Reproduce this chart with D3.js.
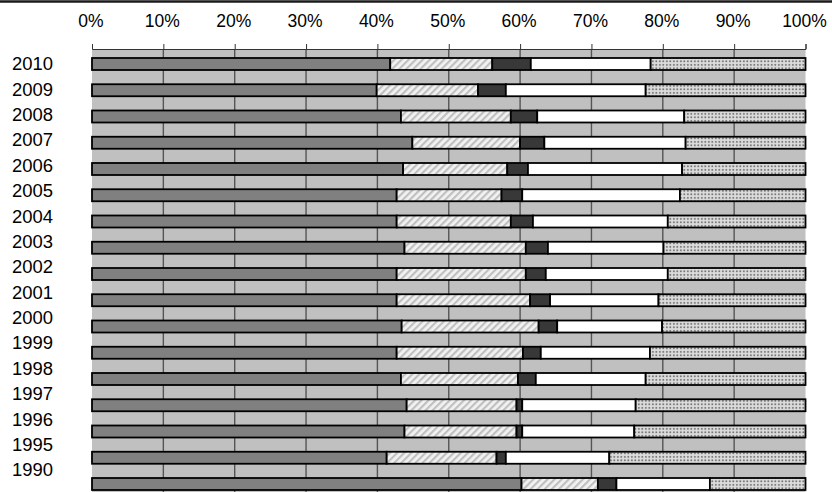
<!DOCTYPE html>
<html><head><meta charset="utf-8">
<script src="https://cdn.jsdelivr.net/npm/d3@7"></script>
<style>html,body{margin:0;padding:0;background:#fff;}svg{display:block;}</style>
</head><body>
<svg id="c" width="832" height="492"></svg>
<script>
const years = ["2010","2009","2008","2007","2006","2005","2004","2003","2002","2001","2000","1999","1998","1997","1996","1995","1990"];
const seriesA = [41.8,39.9,43.3,44.9,43.6,42.7,42.7,43.8,42.7,42.7,43.4,42.7,43.3,44.1,43.8,41.3,60.2];
const seriesB = [14.3,14.2,15.4,15.1,14.6,14.7,16.0,17.0,18.1,18.7,19.2,17.7,16.4,15.4,15.7,15.4,10.7];
const seriesC = [5.4,3.9,3.7,3.4,2.9,2.9,3.1,3.1,2.8,2.8,2.6,2.5,2.5,0.8,0.8,1.3,2.6];
const seriesD = [16.8,19.6,20.6,19.8,21.6,22.1,18.9,16.2,17.1,15.2,14.7,15.3,15.4,15.9,15.7,14.5,13.1];
const seriesE = [21.7,22.4,17.0,16.8,17.3,17.6,19.3,19.9,19.3,20.6,20.1,21.8,22.4,23.8,24.0,27.5,13.4];
const tickLabels = ["0%","10%","20%","30%","40%","50%","60%","70%","80%","90%","100%"];

const keys = ["A","B","C","D","E"];
const rows = years.map((y,i)=>({year:y,A:seriesA[i],B:seriesB[i],C:seriesC[i],D:seriesD[i],E:seriesE[i]}));
const stacked = d3.stack().keys(keys).offset(d3.stackOffsetExpand)(rows);

const svg = d3.select("#c");
const defs = svg.append("defs");
const hatch = defs.append("pattern").attr("id","hatch").attr("patternUnits","userSpaceOnUse")
  .attr("width",5).attr("height",5).attr("patternTransform","rotate(45)");
hatch.append("rect").attr("width",5).attr("height",5).attr("fill","#f2f2f2");
hatch.append("rect").attr("width",2.2).attr("height",5).attr("fill","#c0c0c0");
const dots = defs.append("pattern").attr("id","dots").attr("patternUnits","userSpaceOnUse")
  .attr("width",3.5).attr("height",3.5);
dots.append("rect").attr("width",3.5).attr("height",3.5).attr("fill","#dcdcdc");
dots.append("rect").attr("x",1).attr("y",1).attr("width",1.7).attr("height",1.7).attr("fill","#6e6e6e");

const fills = {A:"#808080",B:"url(#hatch)",C:"#383838",D:"#ffffff",E:"url(#dots)"};

const x0 = 92, x1 = 805.5, axisY = 49;
const x = d3.scaleLinear().domain([0,1]).range([x0,x1]);
const y = d3.scaleBand().domain(years).range([58,490]).paddingInner(0.543).paddingOuter(0);
const yl = d3.scalePoint().domain(years).range([64,470]);
const font = "'Liberation Sans', Arial, sans-serif";

// top border
svg.append("line").attr("x1",0).attr("x2",832).attr("y1",1.5).attr("y2",1.5)
  .attr("stroke","#1a1a1a").attr("stroke-width",2.5);

// background
svg.append("rect").attr("x",x0).attr("y",axisY).attr("width",x1-x0).attr("height",492-axisY).attr("fill","#c0c0c0");

// grid
const ticks = d3.range(0,1.0001,0.1);
svg.append("g").selectAll("line").data(ticks.slice(1,10)).join("line")
  .attr("x1",d=>x(d)).attr("x2",d=>x(d)).attr("y1",axisY).attr("y2",492)
  .attr("stroke","#555").attr("stroke-width",1.4);

// axis
const axis = d3.axisTop(x).tickValues(ticks).tickSize(5).tickFormat((d,i)=>tickLabels[i]);
const ag = svg.append("g").attr("transform",`translate(0,${axisY})`).call(axis);
ag.attr("font-size",null).attr("font-family",null);
ag.select(".domain").attr("stroke","#333").attr("stroke-width",1);
ag.selectAll(".tick line").attr("stroke","#333").attr("stroke-width",1);
ag.selectAll(".tick text").attr("y",-22).attr("dy",0).attr("dx",-1.5).attr("fill","#000")
  .style("font-family",font).style("font-size","17.5px");

// bars
svg.append("g").selectAll("g").data(stacked).join("g")
  .attr("fill",d=>fills[d.key])
  .selectAll("rect").data(d=>d).join("rect")
  .attr("x",d=>x(d[0])).attr("width",d=>x(d[1])-x(d[0]))
  .attr("y",d=>y(d.data.year)).attr("height",y.bandwidth())
  .attr("stroke","#000").attr("stroke-width",1.8);

// year labels
svg.append("g").selectAll("text").data(years).join("text")
  .attr("x",12).attr("y",d=>yl(d)+6.3).attr("text-anchor","start")
  .style("font-family",font).style("font-size","17.5px").attr("textLength",41).attr("lengthAdjust","spacingAndGlyphs")
  .attr("fill","#000").text(d=>d);
</script>
</body></html>
